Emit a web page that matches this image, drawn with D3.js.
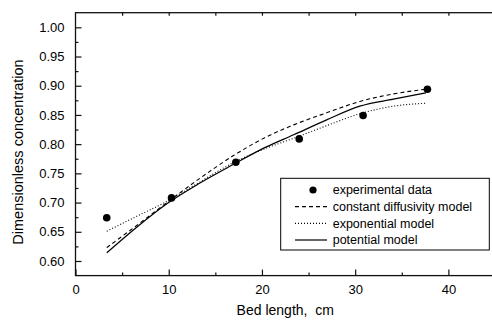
<!DOCTYPE html>
<html>
<head>
<meta charset="utf-8">
<script src="https://cdn.jsdelivr.net/npm/d3@7"></script>
<style>
  html, body { margin: 0; padding: 0; background: #fff; overflow: hidden; }
  text { font-family: "Liberation Sans", Arial, sans-serif; fill: #000; }
</style>
</head>
<body>
<svg id="chart" width="492" height="320"></svg>
<script>
// experimental points
const expX = [3.35, 10.3, 17.2, 24.0, 30.85, 37.75];
const expY = [0.674, 0.708, 0.769, 0.809, 0.849, 0.894];

// model curves
const modelX = [3.35, 6.5, 9.8, 13.3, 16.9, 20.3, 23.4, 27.0, 30.5, 34.1, 37.6];
const constantY = [0.623, 0.660, 0.700, 0.741, 0.780, 0.811, 0.833, 0.854, 0.873, 0.886, 0.894];
const exponentialY = [0.651, 0.676, 0.702, 0.735, 0.768, 0.792, 0.810, 0.832, 0.852, 0.865, 0.870];
const potentialY = [0.614, 0.657, 0.698, 0.733, 0.765, 0.794, 0.816, 0.842, 0.865, 0.877, 0.888];

const xTicks = [0, 10, 20, 30, 40];
const xMinorTicks = [5, 15, 25, 35];
const xTopTicks = [5, 10, 15, 20, 25, 30, 35, 40];
const yTicks = [0.60, 0.65, 0.70, 0.75, 0.80, 0.85, 0.90, 0.95, 1.00];
const yMinorTicks = [0.625, 0.675, 0.725, 0.775, 0.825, 0.875, 0.925, 0.975];

const legendLabels = ["experimental data", "constant diffusivity model", "exponential model", "potential model"];

const svg = d3.select("#chart");

const x = d3.scaleLinear().domain([0, 45]).range([75.5, 495]);
const y = d3.scaleLinear().domain([0.575, 1.025]).range([275.6, 12.7]);

const g = svg.append("g");

// frame
g.append("rect")
  .attr("x", x(0))
  .attr("y", y(1.025))
  .attr("width", x(45) - x(0))
  .attr("height", y(0.575) - y(1.025))
  .attr("fill", "none")
  .attr("stroke", "#111")
  .attr("stroke-width", 1.3);

// bottom axis, ticks inward
g.append("g")
  .attr("transform", `translate(0,${y(0.575)})`)
  .call(d3.axisBottom(x).tickValues(xTicks).tickSize(-6).tickPadding(9).tickFormat(d3.format("d")));
g.append("g")
  .attr("transform", `translate(0,${y(0.575)})`)
  .call(d3.axisBottom(x).tickValues(xMinorTicks).tickSize(-3).tickFormat(""));

// top axis ticks
g.append("g")
  .attr("transform", `translate(0,${y(1.025)})`)
  .call(d3.axisTop(x).tickValues(xTopTicks).tickSize(-3).tickFormat(""));

// left axis
g.append("g")
  .attr("transform", `translate(${x(0)},0)`)
  .call(d3.axisLeft(y).tickValues(yTicks).tickSize(-6).tickPadding(11).tickFormat(d3.format(".2f")));
g.append("g")
  .attr("transform", `translate(${x(0)},0)`)
  .call(d3.axisLeft(y).tickValues(yMinorTicks).tickSize(-3).tickFormat(""));

g.selectAll(".domain").remove();
g.selectAll(".tick line").attr("stroke", "#111").attr("stroke-width", 1.2);
g.selectAll(".tick text").attr("font-size", 13).attr("font-family", "Liberation Sans, Arial, sans-serif").attr("fill", "#000");

// axis titles
svg.append("text")
  .attr("x", (x(0) + x(45)) / 2)
  .attr("y", 315)
  .attr("text-anchor", "middle")
  .attr("font-size", 14)
  .style("white-space", "pre")
  .text("Bed length,  cm");

svg.append("text")
  .attr("transform", "translate(23,152) rotate(-90)")
  .attr("text-anchor", "middle")
  .attr("font-size", 14.5)
  .text("Dimensionless concentration");

// model lines
const line = d3.line()
  .x(d => x(d[0]))
  .y(d => y(d[1]))
  .curve(d3.curveMonotoneX);

const models = [
  {values: constantY, dash: "4,3", width: 1.1},
  {values: exponentialY, dash: "1,2", width: 1.1},
  {values: potentialY, dash: null, width: 1.2}
];

g.selectAll(".model")
  .data(models)
  .enter()
  .append("path")
  .attr("class", "model")
  .attr("d", m => line(modelX.map((v, i) => [v, m.values[i]])))
  .attr("fill", "none")
  .attr("stroke", "#000")
  .attr("stroke-width", m => m.width)
  .attr("stroke-dasharray", m => m.dash);

// experimental points
g.selectAll(".pt")
  .data(expX.map((v, i) => [v, expY[i]]))
  .enter()
  .append("circle")
  .attr("class", "pt")
  .attr("cx", d => x(d[0]))
  .attr("cy", d => y(d[1]))
  .attr("r", 3.8)
  .attr("fill", "#000");

// legend
const legend = svg.append("g");
legend.append("rect")
  .attr("x", 280.7)
  .attr("y", 178.3)
  .attr("width", 208.6)
  .attr("height", 71.7)
  .attr("fill", "#fff")
  .attr("stroke", "#000")
  .attr("stroke-width", 1);

const rowY = d3.scaleLinear().domain([0, 3]).range([190, 240]);

legend.append("circle")
  .attr("cx", 313)
  .attr("cy", rowY(0))
  .attr("r", 3.6)
  .attr("fill", "#000");

legend.selectAll(".sample")
  .data(models)
  .enter()
  .append("line")
  .attr("x1", 295)
  .attr("x2", 327)
  .attr("y1", (m, i) => rowY(i + 1))
  .attr("y2", (m, i) => rowY(i + 1))
  .attr("stroke", "#000")
  .attr("stroke-width", m => m.width)
  .attr("stroke-dasharray", m => m.dash);

legend.selectAll(".label")
  .data(legendLabels)
  .enter()
  .append("text")
  .attr("x", 332.7)
  .attr("y", (d, i) => rowY(i))
  .attr("dy", "0.35em")
  .attr("font-size", 12.5)
  .text(d => d);
</script>
</body>
</html>
